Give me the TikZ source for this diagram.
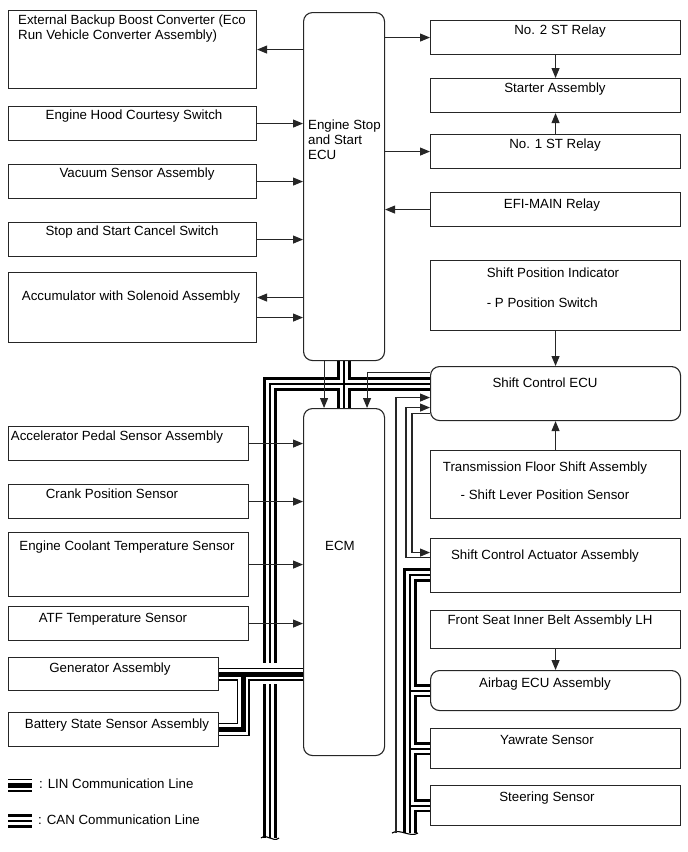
\documentclass[tikz,border=0pt]{standalone}
\usepackage{fontspec}
\setmainfont{Liberation Sans}
\usepackage{tikz}
\usetikzlibrary{arrows.meta}
\usetikzlibrary{positioning}
\usetikzlibrary{backgrounds}

\tikzset{
    box/.style={draw=black!85, line width=1.1pt, rectangle, anchor=north west, inner sep=0pt},
    ecubox/.style={box, rounded corners=9pt},
    txt/.style={inner sep=0pt, text height=10pt, text depth=3pt},
    txtm/.style={inner sep=0pt},
    sig/.style={->, line width=1.1pt, draw=black!85},
    canouter/.style={line width=13.5pt, black},
    caninner/.style={line width=8pt, white},
    canmid/.style={line width=2pt, black},
    linouter/.style={line width=13pt, black},
    lininner/.style={line width=10.6pt, white},
    linmid/.style={line width=5pt, black},
}

\begin{document}
\begin{tikzpicture}[x=1pt, y=-1pt, >={Triangle[length=10pt,width=8pt]},
    font=\fontsize{13.3}{15}\selectfont]
    \useasboundingbox (0,0) rectangle (688,852);

    % engine stop and start ECU side
    \node[ecubox, minimum width=81pt, minimum height=348pt] (ecu) at (303,12) {};
    \node[box, minimum width=248pt, minimum height=78pt] (ext) at (8,10) {};
    \node[box, minimum width=248pt, minimum height=34pt] (hood) at (8,106) {};
    \node[box, minimum width=248pt, minimum height=34pt] (vac) at (8,164) {};
    \node[box, minimum width=248pt, minimum height=34pt] (cancel) at (8,222) {};
    \node[box, minimum width=248pt, minimum height=70pt] (accum) at (8,272) {};
    \node[box, minimum width=250pt, minimum height=34pt] (st2) at (430,20) {};
    \node[box, minimum width=250pt, minimum height=34pt] (starter) at (430,78) {};
    \node[box, minimum width=250pt, minimum height=34pt] (st1) at (430,134) {};
    \node[box, minimum width=250pt, minimum height=34pt] (efi) at (430,192) {};
    \node[box, minimum width=250pt, minimum height=70pt] (spi) at (430,260) {};

    % ECM side
    \node[ecubox, minimum width=81pt, minimum height=347pt] (ecm) at (303,408) {};
    \node[box, minimum width=240pt, minimum height=34pt] (aps) at (8,426) {};
    \node[box, minimum width=240pt, minimum height=34pt] (crank) at (8,484) {};
    \node[box, minimum width=240pt, minimum height=64pt] (ect) at (8,532) {};
    \node[box, minimum width=240pt, minimum height=34pt] (atf) at (8,606) {};
    \node[box, minimum width=210pt, minimum height=33pt] (gen) at (8,657) {};
    \node[box, minimum width=210pt, minimum height=34pt] (bss) at (8,712) {};
    \node[ecubox, minimum width=250pt, minimum height=54pt] (scecu) at (430,366) {};
    \node[box, minimum width=250pt, minimum height=68pt] (tfs) at (430,450) {};
    \node[box, minimum width=250pt, minimum height=54pt] (sca) at (430,538) {};
    \node[box, minimum width=250pt, minimum height=38pt] (fsb) at (430,610) {};
    \node[ecubox, minimum width=250pt, minimum height=40pt] (airbag) at (430,670) {};
    \node[box, minimum width=250pt, minimum height=40pt] (yaw) at (430,728) {};
    \node[box, minimum width=250pt, minimum height=40pt] (steer) at (430,785) {};

    % texts
    \node[txtm, anchor=north west, align=left] (ecutxt) at (308,120) {Engine Stop\\and Start\\ECU};
    \node[txtm, anchor=north west, align=left] (exttxt) at (18,15) {External Backup Boost Converter (Eco\\Run Vehicle Converter Assembly)};
    \node[txt] (hoodtxt) at (134,116) {Engine Hood Courtesy Switch};
    \node[txt] (vactxt) at (137,174) {Vacuum Sensor Assembly};
    \node[txt] (canceltxt) at (132,232) {Stop and Start Cancel Switch};
    \node[txt] (accumtxt) at (131,297) {Accumulator with Solenoid Assembly};
    \node[txt] (st2txt) at (560,31) {No. 2 ST Relay};
    \node[txt] (startertxt) at (555,89) {Starter Assembly};
    \node[txt] (st1txt) at (555,145) {No. 1 ST Relay};
    \node[txt] (efitxt) at (552,205) {EFI-MAIN Relay};
    \node[txtm, anchor=north, align=left] (spitxt) at (553,268) {Shift Position Indicator\\[15pt]- P Position Switch};
    \node[txt] (ecmtxt) at (340,547) {ECM};
    \node[txt] (apstxt) at (117,437) {Accelerator Pedal Sensor Assembly};
    \node[txt] (cranktxt) at (112,495) {Crank Position Sensor};
    \node[txt] (ecttxt) at (127,547) {Engine Coolant Temperature Sensor};
    \node[txt] (atftxt) at (113,619) {ATF Temperature Sensor};
    \node[txt] (gentxt) at (110,669) {Generator Assembly};
    \node[txt] (bsstxt) at (117,725) {Battery State Sensor Assembly};
    \node[txt] (scecutxt) at (545,384) {Shift Control ECU};
    \node[txtm, anchor=north, align=center] (tfstxt) at (545,462) {Transmission Floor Shift Assembly\\[13pt]- Shift Lever Position Sensor};
    \node[txt] (scatxt) at (545,556) {Shift Control Actuator Assembly};
    \node[txt] (fsbtxt) at (550,621) {Front Seat Inner Belt Assembly LH};
    \node[txt] (airbagtxt) at (545,684) {Airbag ECU Assembly};
    \node[txt] (yawtxt) at (547,741) {Yawrate Sensor};
    \node[txt] (steertxt) at (547,798) {Steering Sensor};

    % communication lines
    \begin{scope}[on background layer]
        \coordinate (canleft) at (270,384);
        \coordinate (canleftend) at (270,838);
        \coordinate (canright) at (410,575);
        \coordinate (canrightend) at (410,833);
        \coordinate (linjoint) at ([xshift=24pt]gen.east);
        \foreach \layer in {canouter,caninner,canmid}{
            \draw[\layer] (canleftend) -- (canleft) -- (canleft -| scecu.west);
            \draw[\layer] (ecu.south) -- (ecm.north);
            \draw[\layer] (canrightend) -- (canright) -- (canright -| sca.west);
            \draw[\layer] (canright |- airbag.west) -- (airbag.west);
            \draw[\layer] (canright |- yaw.west) -- (yaw.west);
            \draw[\layer] (canright |- steer.west) -- (steer.west);
        }
        \draw[white, line width=21pt] (256,673) -- (284,673);
        \foreach \layer in {linouter,lininner,linmid}{
            \draw[\layer] (ecm.west |- gen.east) -- (gen.east);
            \draw[\layer] (linjoint) -- (linjoint |- bss.east) -- (bss.east);
            \draw[\layer] (8,785) -- (32,785);
        }
        \foreach \layer in {canouter,caninner,canmid}{
            \draw[\layer] (8,821) -- (32,821);
        }
    \end{scope}
    \draw[line width=1.1pt] ([xshift=-9pt]canleftend) .. controls +(6,-5) and +(-6,5) .. ([xshift=9pt]canleftend);
    \draw[line width=1.1pt] ([xshift=-18pt]canrightend) .. controls +(8,-5) and +(-8,5) .. ([xshift=8pt]canrightend);

    % signal lines
    \draw[sig] (ecu.west |- ext.east) -- (ext.east);
    \foreach \n in {hood,vac,cancel}{
        \draw[sig] (\n.east) -- (\n.east -| ecu.west);
    }
    \draw[sig] ([yshift=10pt]accum.east -| ecu.west) -- ([yshift=10pt]accum.east);
    \draw[sig] ([yshift=-10pt]accum.east) -- ([yshift=-10pt]accum.east -| ecu.west);
    \draw[sig] (ecu.east |- st2.west) -- (st2.west);
    \draw[sig] (ecu.east |- st1.west) -- (st1.west);
    \draw[sig] (efi.west) -- (efi.west -| ecu.east);
    \draw[sig] (st2.south) -- (starter.north);
    \draw[sig] (st1.north) -- (starter.south);
    \draw[sig] (spi.south) -- (scecu.north);
    \draw[sig] (tfs.north) -- (scecu.south);
    \draw[sig] (fsb.south) -- (airbag.north);
    \draw[sig] ([xshift=-20pt]ecu.south) -- ([xshift=-20pt]ecm.north);
    \draw[sig] ([yshift=21pt]scecu.west) -| ([xshift=23pt]ecm.north);
    \foreach \n in {aps,crank,ect,atf}{
        \draw[sig] (\n.east) -- (\n.east -| ecm.west);
    }
    \coordinate (offpage) at (396,833);
    \draw[sig] (offpage) |- ([yshift=-4pt]scecu.west);
    \draw[sig] ([yshift=8pt]sca.west) -- ++(-24,0) |- ([yshift=-14pt]scecu.west);
    \draw[sig] ([yshift=-20pt]scecu.west) -- ++(-18,0) |- ([yshift=13pt]sca.west);

    % legend
    \node[txt, anchor=west] (lintxt) at (39,785) {: LIN Communication Line};
    \node[txt, anchor=west] (cantxt) at (38,821) {: CAN Communication Line};
\end{tikzpicture}
\end{document}
